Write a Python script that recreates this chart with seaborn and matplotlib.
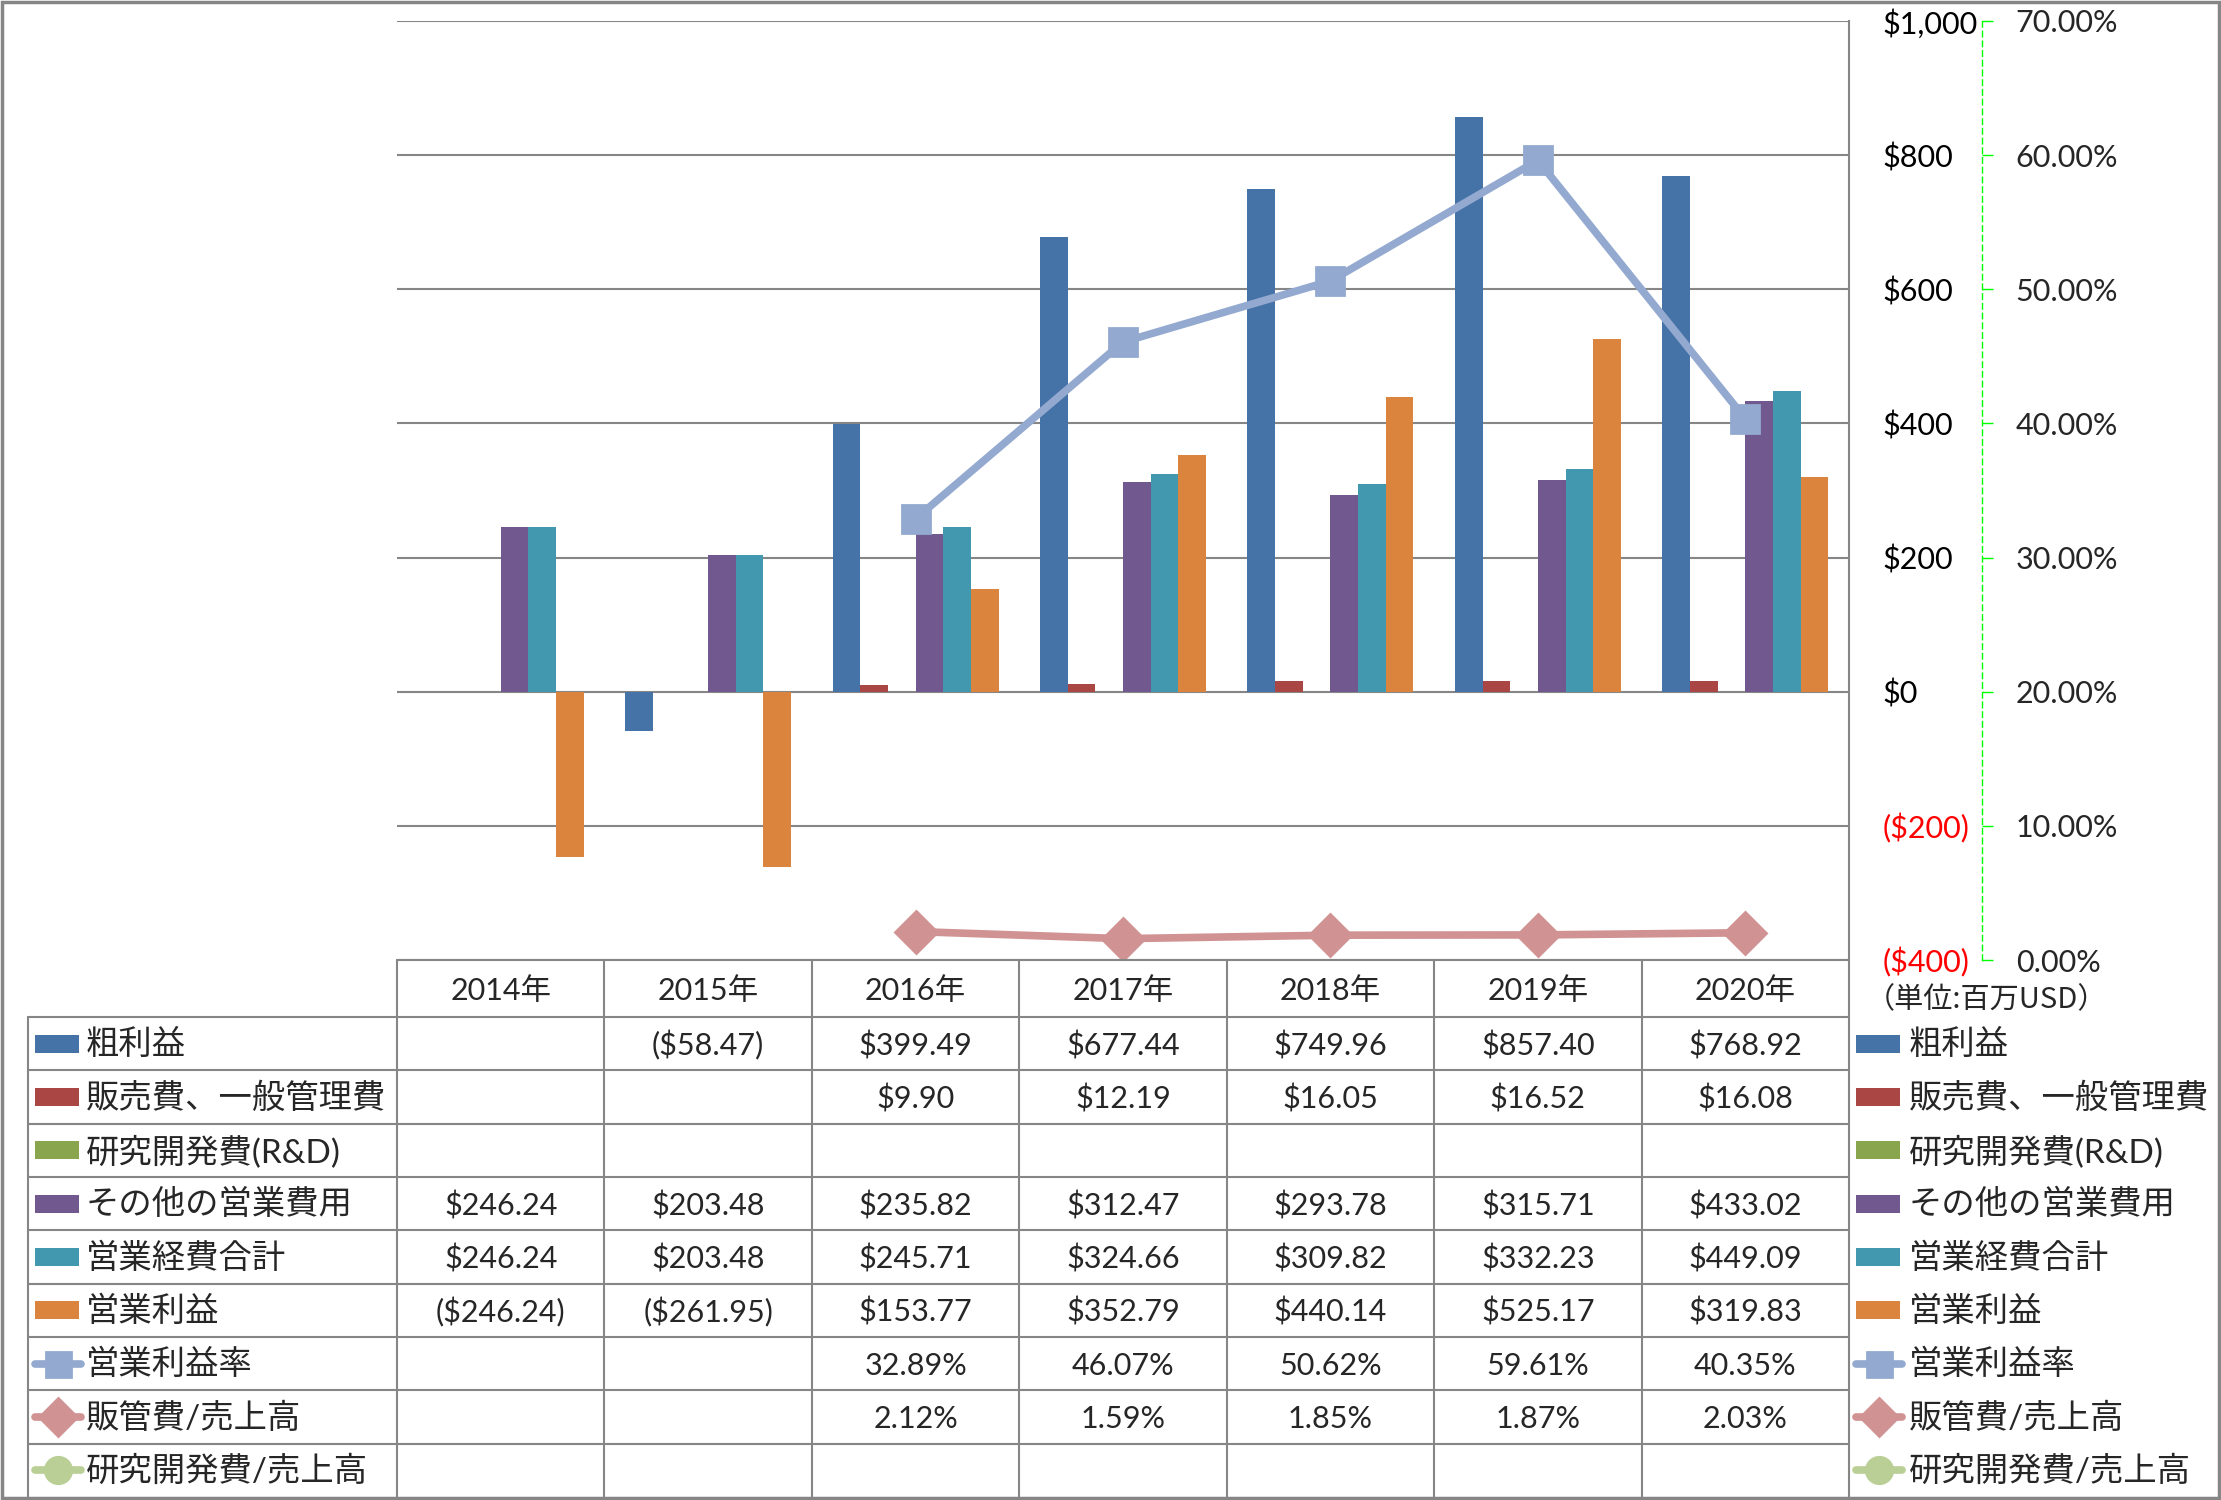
import numpy as np
import pandas as pd
import matplotlib
matplotlib.use("Agg")
import matplotlib.pyplot as plt
from matplotlib.lines import Line2D
from matplotlib.patches import Rectangle
import seaborn as sns

# ---- data ----
nan = np.nan
years = ["2014年", "2015年", "2016年", "2017年", "2018年", "2019年", "2020年"]

gross_profit = [nan, -58.47, 399.49, 677.44, 749.96, 857.40, 768.92]
sga = [nan, nan, 9.90, 12.19, 16.05, 16.52, 16.08]
rnd = [nan, nan, nan, nan, nan, nan, nan]
other_opex = [246.24, 203.48, 235.82, 312.47, 293.78, 315.71, 433.02]
total_opex = [246.24, 203.48, 245.71, 324.66, 309.82, 332.23, 449.09]
op_income = [-246.24, -261.95, 153.77, 352.79, 440.14, 525.17, 319.83]

op_margin = [nan, nan, 32.89, 46.07, 50.62, 59.61, 40.35]
sga_ratio = [nan, nan, 2.12, 1.59, 1.85, 1.87, 2.03]
rnd_ratio = [nan, nan, nan, nan, nan, nan, nan]

bar_names = ["粗利益", "販売費、一般管理費", "研究開発費(R&D)",
             "その他の営業費用", "営業経費合計", "営業利益"]
bar_values = [gross_profit, sga, rnd, other_opex, total_opex, op_income]
bar_colors = ["#4572A7", "#AA4643", "#89A54E", "#71588F", "#4198AF", "#DB843D"]

line_names = ["営業利益率", "販管費/売上高", "研究開発費/売上高"]
line_values = [op_margin, sga_ratio, rnd_ratio]
line_colors = ["#93A9CF", "#D09292", "#B9CF96"]
line_markers = ["s", "D", "o"]

yticks_left = [-400, -200, 0, 200, 400, 600, 800, 1000]
yticks_right = [0, 10, 20, 30, 40, 50, 60, 70]

# long table for seaborn
rows = []
for name, vals in zip(bar_names, bar_values):
    for yr, v in zip(years, vals):
        rows.append({"year": yr, "series": name, "value": v})
df = pd.DataFrame(rows).dropna()


def money(v):
    if np.isnan(v):
        return ""
    if v < 0:
        return f"(${-v:,.2f})"
    return f"${v:,.2f}"


def money_tick(v):
    if v < 0:
        return f"(${-v:,.0f})"
    return f"${v:,.0f}"


def pct(v):
    return "" if np.isnan(v) else f"{v:.2f}%"


# ---- style ----
sns.set_theme(style="white")
plt.rcParams["font.family"] = ["Lato", "Noto Sans CJK JP", "DejaVu Sans"]
GRID = "#868686"

W, H = 2221, 1500
fig = plt.figure(figsize=(W / 100, H / 100), dpi=100)
fig.patch.set_facecolor("white")

plot_l, plot_r, plot_t, plot_b = 397, 1849, 21, 960
ax = fig.add_axes([plot_l / W, 1 - plot_b / H,
                   (plot_r - plot_l) / W, (plot_b - plot_t) / H])

sns.barplot(data=df, x="year", y="value", hue="series", order=years,
            hue_order=bar_names, palette=dict(zip(bar_names, bar_colors)),
            saturation=1, width=0.8, linewidth=0, errorbar=None,
            legend=False, ax=ax)

ax.set_xlim(-0.5, len(years) - 0.5)
ax.set_ylim(-400, 1000)
ax.set_xticks([])
ax.set_xlabel("")
ax.set_ylabel("")
ax.yaxis.grid(True, color=GRID, lw=1.5)
ax.set_axisbelow(True)

# secondary axis for ratios
ax2 = ax.twinx()
xpos = np.arange(len(years))
for name, vals, col, mk in zip(line_names, line_values, line_colors, line_markers):
    ms = 20 if mk == "s" else 21
    ax2.plot(xpos, vals, color=col, lw=5.5, marker=mk, ms=ms,
             mfc=col, mec=col, mew=2, solid_capstyle="round")
ax2.set_ylim(0, 70)
ax2.set_yticks(yticks_right)
ax2.set_yticklabels([f"{v:.2f}%" for v in yticks_right])
ax2.tick_params(axis="y", direction="out", length=8, width=1,
                color="#00FF00", pad=16, labelsize=22)
for s in ["left", "top", "bottom"]:
    ax2.spines[s].set_visible(False)
ax2.spines["right"].set_position(("outward", 96))
ax2.spines["right"].set_color("#00FF00")
ax2.spines["right"].set_linestyle((0, (4, 3)))
ax2.spines["right"].set_linewidth(1)
ax2.set_ylabel("")

# primary axis labels on the right (twinx resets them to the left)
ax.yaxis.tick_right()
ax.set_yticks(yticks_left)
ax.set_yticklabels([money_tick(v) for v in yticks_left])
for lab, v in zip(ax.get_yticklabels(), yticks_left):
    lab.set_color("red" if v < 0 else "black")
ax.tick_params(axis="y", length=0, pad=24, labelsize=22,
               labelright=True, labelleft=False)
for s in ["left", "top", "bottom"]:
    ax.spines[s].set_visible(False)
ax.spines["right"].set_visible(True)
ax.spines["right"].set_color(GRID)
ax.spines["right"].set_linewidth(1.5)

# ---- data table + legends (pixel overlay) ----
ov = fig.add_axes([0, 0, 1, 1])
ov.set_xlim(0, W)
ov.set_ylim(H, 0)
ov.axis("off")
ov.patch.set_alpha(0)

col_edges = np.linspace(plot_l, plot_r, len(years) + 1)
col_mid = (col_edges[:-1] + col_edges[1:]) / 2
head_t, head_b, tab_b = plot_b, 1017, 1497
all_names = bar_names + line_names
row_h = (tab_b - head_b) / len(all_names)
row_edges = head_b + row_h * np.arange(len(all_names) + 1)
row_mid = (row_edges[:-1] + row_edges[1:]) / 2
leg_l = 28

lw_t = 1.5
ov.plot([plot_l, plot_r], [head_t, head_t], color=GRID, lw=lw_t)
for y in row_edges[:-1]:
    ov.plot([leg_l, plot_r], [y, y], color=GRID, lw=lw_t)
ov.plot([leg_l, leg_l], [head_b, tab_b], color=GRID, lw=lw_t)
for x in col_edges:
    ov.plot([x, x], [head_t, tab_b], color=GRID, lw=lw_t)

for x, yr in zip(col_mid, years):
    ov.text(x, (head_t + head_b) / 2 + 2, yr, ha="center", va="center", fontsize=22)

table_text = [[money(v) for v in vals] for vals in bar_values] + \
             [[pct(v) for v in vals] for vals in line_values]
for r, texts in enumerate(table_text):
    for x, t in zip(col_mid, texts):
        if t:
            ov.text(x, row_mid[r] + 2, t, ha="center", va="center", fontsize=22)


def legend_key(x0, y, idx):
    if idx < len(bar_names):
        ov.add_patch(Rectangle((x0, y - 9), 44, 18, color=bar_colors[idx], lw=0))
    else:
        j = idx - len(bar_names)
        ov.add_line(Line2D([x0, x0 + 46], [y, y], color=line_colors[j], lw=5.5,
                           solid_capstyle="round"))
        ov.add_line(Line2D([x0 + 23], [y], marker=line_markers[j],
                           ms=18 if line_markers[j] == "s" else 19,
                           mfc=line_colors[j], mec=line_colors[j], mew=2, ls=""))


for r, name in enumerate(all_names):
    legend_key(35, row_mid[r], r)
    ov.text(86, row_mid[r] + 1, name, ha="left", va="center", fontsize=24)
    legend_key(1856, row_mid[r], r)
    ov.text(1909, row_mid[r] + 1, name, ha="left", va="center", fontsize=24)

ov.text(1866, 1000, "（単位:百万USD）", ha="left", va="center", fontsize=21,
        family=["Noto Sans CJK JP", "DejaVu Sans"])

ov.add_patch(Rectangle((1.5, 1.5), W - 4, H - 4, fill=False, ec=GRID, lw=2.5))

fig.savefig("out.png", dpi=100, facecolor="white")
